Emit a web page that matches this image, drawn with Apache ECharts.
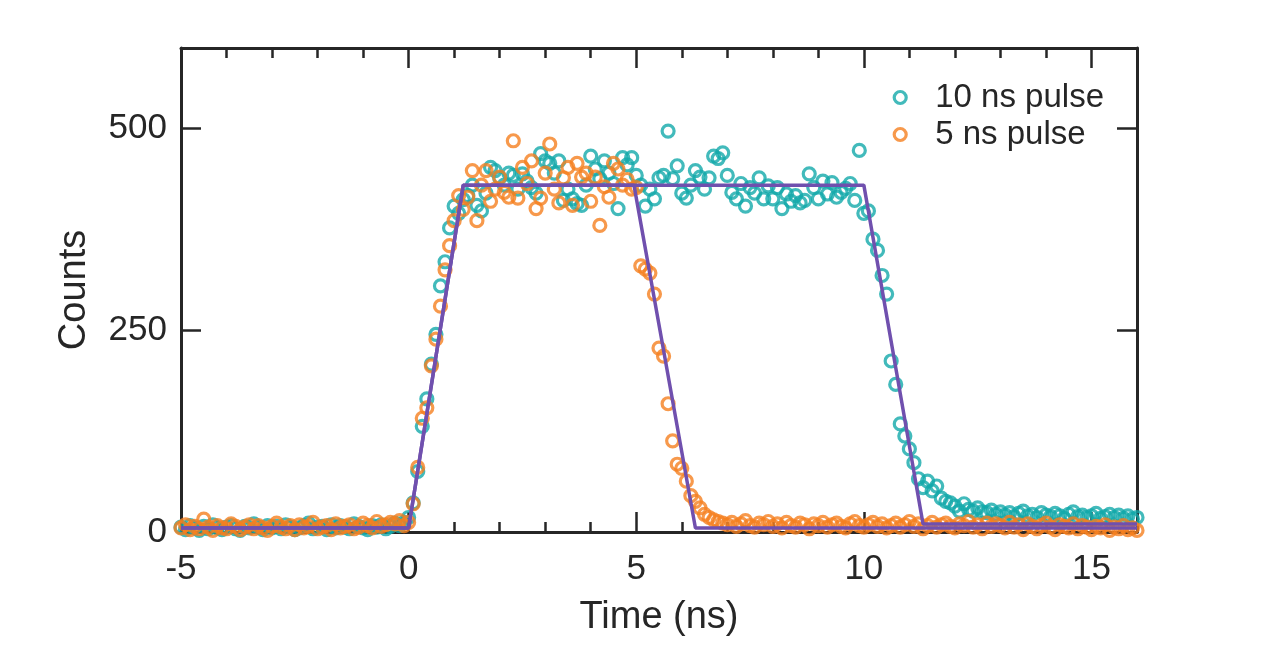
<!DOCTYPE html>
<html>
<head>
<meta charset="utf-8">
<title>Pulse counts</title>
<script src="https://cdn.jsdelivr.net/npm/echarts@6/dist/echarts.min.js"></script>
<style>
  html, body { margin: 0; padding: 0; background: #fff; }
  #chart { width: 1275px; height: 655px; }
</style>
</head>
<body>
<div id="chart"></div>
<script>
// time bins: -5.0 ns .. 16.0 ns, one bin every 0.1 ns
const timeStart = -5;
const timeStep = 0.1;

// counts for the 10 ns pulse, one row per ns
const counts10 = [
  6, 3, 8, 5, 2, 7, 4, 9, 5, 3,
  6, 8, 4, 2, 7, 5, 10, 6, 3, 8,
  5, 7, 4, 9, 6, 3, 5, 8, 11, 4,
  6, 7, 3, 9, 5, 8, 6, 4, 10, 7,
  5, 3, 8, 6, 9, 4, 7, 11, 8, 12,
  18, 36, 75, 131, 165, 208, 245, 305, 335, 377,
  404, 395, 412, 417, 430, 405, 398, 420, 452, 448,
  439, 430, 445, 442, 425, 444, 435, 427, 420, 469,
  460, 457, 445, 460, 411, 425, 413, 407, 405, 430,
  466, 450, 438, 460, 445, 432, 401, 464, 455, 464,
  442, 430, 404, 425, 413, 439, 442, 497, 438, 454,
  420, 414, 430, 448, 440, 425, 439, 466, 463, 470,
  442, 421, 413, 432, 404, 427, 420, 439, 413, 429,
  413, 427, 401, 419, 410, 417, 408, 411, 444, 427,
  413, 435, 419, 433, 415, 421, 426, 432, 411, 473,
  395, 398, 363, 349, 318, 295, 212, 183, 134, 119,
  103, 86, 66, 55, 63, 51, 57, 42, 38, 36,
  32, 26, 35, 28, 26, 30, 25, 24, 27, 22,
  25, 21, 24, 19, 23, 26, 20, 22, 18, 24,
  21, 19, 23, 20, 17, 22, 25, 19, 21, 18,
  20, 23, 17, 19, 22, 18, 21, 17, 20, 16,
  18
];

// counts for the 5 ns pulse
const counts5 = [
  5, 9, 3, 7, 4, 16, 6, 2, 8, 5,
  4, 10, 7, 3, 6, 9, 4, 8, 5, 2,
  7, 11, 6, 4, 8, 3, 9, 5, 7, 12,
  4, 6, 8, 3, 10, 5, 7, 9, 4, 6,
  11, 8, 5, 13, 7, 9, 12, 10, 14, 8,
  12, 35, 80, 141, 154, 206, 239, 280, 325, 355,
  386, 417, 400, 415, 448, 386, 430, 448, 410, 425,
  440, 421, 415, 485, 414, 452, 432, 460, 401, 414,
  445, 481, 425, 408, 439, 452, 405, 457, 440, 445,
  410, 440, 380, 428, 415, 457, 450, 430, 437, 425,
  427, 330, 326, 321, 295, 228, 218, 159, 113, 84,
  79, 63, 45, 38, 30, 22, 18, 15, 13, 11,
  9, 12, 7, 10, 14, 8, 6, 11, 9, 13,
  7, 10, 5, 12, 8, 6, 11, 9, 4, 10,
  8, 12, 6, 9, 11, 7, 5, 10, 13, 8,
  6, 9, 12, 7, 10, 5, 8, 11, 6, 9,
  13, 7, 10, 4, 8, 12, 6, 9, 11, 7,
  5, 10, 8, 13, 6, 9, 4, 11, 7, 10,
  8, 5, 12, 6, 9, 3, 10, 7, 4, 8,
  11, 6, 3, 9, 7, 5, 10, 4, 8, 6,
  3, 7, 5, 9, 2, 6, 4, 8, 3, 5,
  2
];

// trapezoid fits (corner points)
const fit10Time = [-5, 0, 1.2, 10, 11.3, 16];
const fit10Counts = [5, 5, 430, 430, 10, 10];
const fit5Time = [-5, 0, 1.2, 4.95, 6.3, 16];
const fit5Counts = [5, 5, 430, 430, 5, 5];

const seriesNames = ['10 ns pulse', '5 ns pulse'];
const xTicks = [-5, 0, 5, 10, 15];
const yTicks = [0, 250, 500];

const teal = '#13A9AA';
const orange = '#F5801F';
const purple = '#7050AE';
const ink = '#262626';
const font = 'Liberation Sans, Arial, Helvetica, sans-serif';

function toPoints(values) {
  return values.map((v, i) => [+(timeStart + i * timeStep).toFixed(1), v]);
}
function zipPoints(ts, vs) {
  return ts.map((t, i) => [t, vs[i]]);
}

function xAxisDef(pos, interval, tickLen, withLine, withLabel) {
  return {
    type: 'value',
    position: pos,
    min: -5,
    max: 16,
    interval: interval,
    axisLine: { show: withLine, onZero: false, lineStyle: { color: ink, width: 3 } },
    axisTick: { show: true, inside: true, length: tickLen, lineStyle: { color: ink, width: 2.5 } },
    axisLabel: {
      show: withLabel,
      showMaxLabel: false,
      margin: 20,
      color: ink,
      fontSize: 35,
      fontFamily: font,
      formatter: v => (xTicks.indexOf(v) >= 0 ? String(v) : '')
    },
    splitLine: { show: false }
  };
}

function yAxisDef(pos, withLabel) {
  return {
    type: 'value',
    position: pos,
    min: 0,
    max: 600,
    interval: 250,
    axisLine: { show: true, onZero: false, lineStyle: { color: ink, width: 3 } },
    axisTick: { show: true, inside: true, length: 20, lineStyle: { color: ink, width: 2.5 } },
    axisLabel: {
      show: withLabel,
      showMaxLabel: false,
      margin: 14,
      color: ink,
      fontSize: 35,
      fontFamily: font,
      formatter: v => (yTicks.indexOf(v) >= 0 ? String(v) : '')
    },
    splitLine: { show: false }
  };
}

const chart = echarts.init(document.getElementById('chart'), null, { renderer: 'canvas' });

const xBottom = xAxisDef('bottom', 5, 20, true, true);
xBottom.name = 'Time (ns)';
xBottom.nameLocation = 'middle';
xBottom.nameGap = 67;
xBottom.nameTextStyle = { color: ink, fontSize: 38, fontFamily: font };

const yLeft = yAxisDef('left', true);
yLeft.name = 'Counts';
yLeft.nameLocation = 'middle';
yLeft.nameGap = 87;
yLeft.nameTextStyle = { color: ink, fontSize: 38, fontFamily: font };

const ringStyle = color => ({ color: 'rgba(0,0,0,0)', borderColor: color, borderWidth: 3.2 });

chart.setOption({
  animation: false,
  backgroundColor: '#fff',
  grid: { left: 181, right: 138, top: 48, bottom: 123, containLabel: false, outerBoundsMode: 'none' },
  legend: {
    data: [
      { name: seriesNames[0], icon: 'circle', itemStyle: ringStyle(teal) },
      { name: seriesNames[1], icon: 'circle', itemStyle: ringStyle(orange) }
    ],
    orient: 'vertical',
    right: 166,
    top: 76,
    itemWidth: 60,
    itemHeight: 12,
    itemGap: 4,
    textStyle: { color: ink, fontSize: 33, fontFamily: font }
  },
  xAxis: [
    xBottom,
    xAxisDef('bottom', 1, 10, false, false),
    xAxisDef('top', 5, 20, true, false),
    xAxisDef('top', 1, 10, false, false)
  ],
  yAxis: [
    yLeft,
    yAxisDef('right', false)
  ],
  series: [{
    name: seriesNames[0],
    type: 'scatter',
    symbol: 'circle',
    symbolSize: 12,
    clip: false,
    itemStyle: ringStyle(teal),
    emphasis: { disabled: true },
    data: toPoints(counts10)
  }, {
    name: seriesNames[1],
    type: 'scatter',
    symbol: 'circle',
    symbolSize: 12,
    clip: false,
    itemStyle: ringStyle(orange),
    emphasis: { disabled: true },
    data: toPoints(counts5)
  }, {
    type: 'line',
    symbol: 'none',
    lineStyle: { color: purple, width: 3.5 },
    emphasis: { disabled: true },
    data: zipPoints(fit10Time, fit10Counts)
  }, {
    type: 'line',
    symbol: 'none',
    lineStyle: { color: purple, width: 3.5 },
    emphasis: { disabled: true },
    data: zipPoints(fit5Time, fit5Counts)
  }]
});
</script>
</body>
</html>
